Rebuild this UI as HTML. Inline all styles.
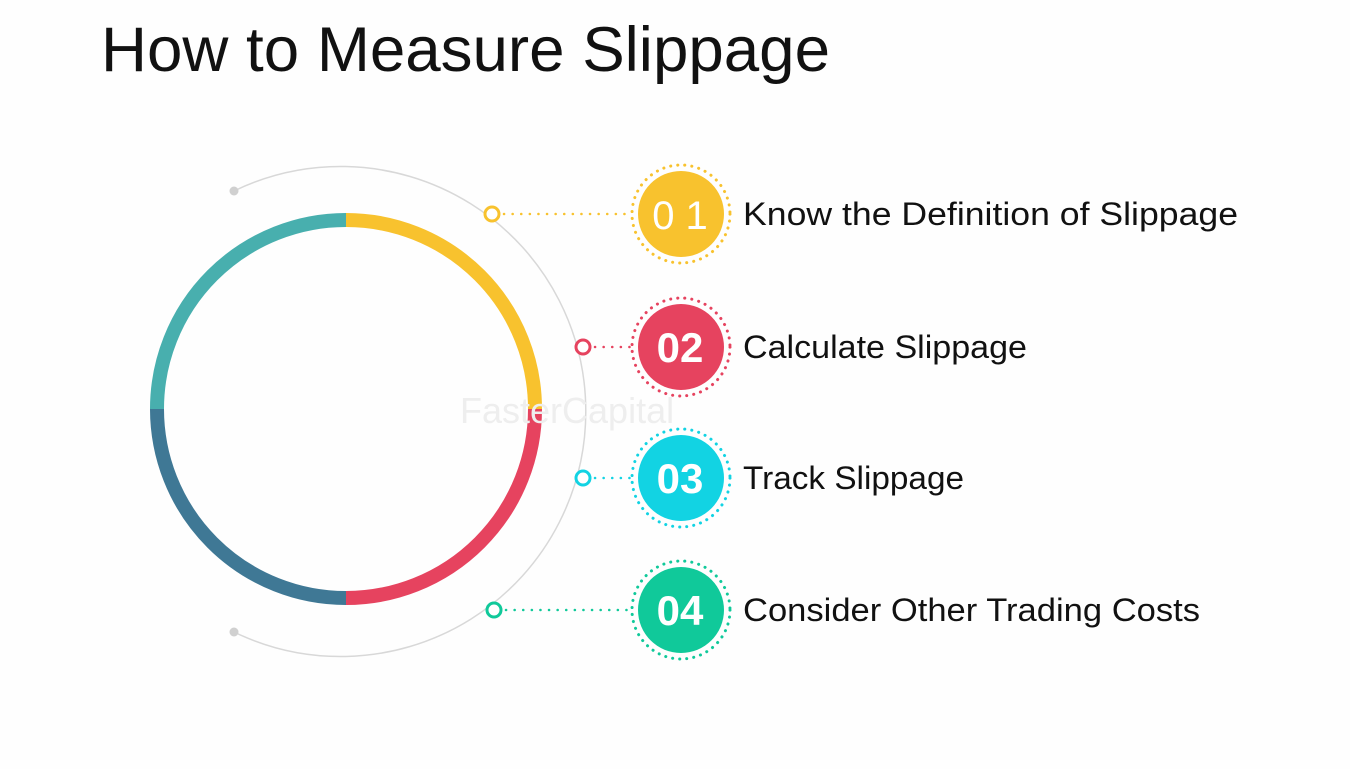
<!DOCTYPE html>
<html><head><meta charset="utf-8"><style>
html,body{margin:0;padding:0;background:#fefefe;}
svg{display:block;font-family:"Liberation Sans",sans-serif;}
</style></head><body>
<svg width="1350" height="769" viewBox="0 0 1350 769">
<rect width="1350" height="769" fill="#fefefe"/>
<text x="101" y="71" font-size="63" textLength="729" lengthAdjust="spacingAndGlyphs" fill="#111">How to Measure Slippage</text>
<path d="M234 191 A245 245 0 1 1 234 632" fill="none" stroke="#d8d8d8" stroke-width="1.5"/>
<circle cx="234" cy="191" r="4.5" fill="#d0d0d0"/>
<circle cx="234" cy="632" r="4.5" fill="#d0d0d0"/>
<g fill="none" stroke-width="14">
<path d="M346 220 A189 189 0 0 1 535 409" stroke="#F8C22E"/>
<path d="M535 409 A189 189 0 0 1 346 598" stroke="#E6435F"/>
<path d="M346 598 A189 189 0 0 1 157 409" stroke="#3F7895"/>
<path d="M157 409 A189 189 0 0 1 346 220" stroke="#48AFAE"/>
</g>
<text x="460" y="423" font-size="36" fill="#eeeeee">FasterCapital</text>
<g id="items"></g>
</svg>
<script>
const labels=["Know the Definition of Slippage","Calculate Slippage","Track Slippage","Consider Other Trading Costs"];
const numbers=["0 1","02","03","04"];
const colors=["#F8C22E","#E6435F","#12D3E3","#10C99A"];
const ys=[214,347,478,610];
const dotXs=[492,583,583,494];
const labelWidths=[495,284,221,457];
const ns="http://www.w3.org/2000/svg";
const g=document.getElementById('items');
function mk(t,a){const e=document.createElementNS(ns,t);for(const k in a)e.setAttribute(k,a[k]);return e;}
labels.forEach((lab,i)=>{
  const y=ys[i],c=colors[i];
  const line=mk('line',{x1:dotXs[i]+12,y1:y,x2:630,y2:y,stroke:c,'stroke-width':2.5,'stroke-dasharray':'0.1 8.5','stroke-linecap':'round'});
  
  
  g.appendChild(line);
  const sm=mk('circle',{cx:dotXs[i],cy:y,r:7,fill:'#fff',stroke:c,'stroke-width':3});
  
  
  g.appendChild(sm);
  const ring=mk('circle',{cx:681,cy:y,r:49,fill:'none',stroke:c,'stroke-width':3,'stroke-dasharray':'0.1 7','stroke-linecap':'round'});
  
  
  g.appendChild(ring);
  const cir=mk('circle',{cx:681,cy:y,r:43,fill:c});
  
  
  g.appendChild(cir);
  const num=mk('text',{x:680,y:y+15,'text-anchor':'middle','font-size':i==0?40:42,'font-weight':i==0?'normal':'bold',fill:'#fff'});
  num.textContent=numbers[i];
  
  
  g.appendChild(num);
  const t=mk('text',{x:743,y:y+11,'font-size':32,fill:'#111',textLength:labelWidths[i],lengthAdjust:'spacingAndGlyphs'});
  t.textContent=lab;
  
  
  g.appendChild(t);
});
</script>
</body></html>
